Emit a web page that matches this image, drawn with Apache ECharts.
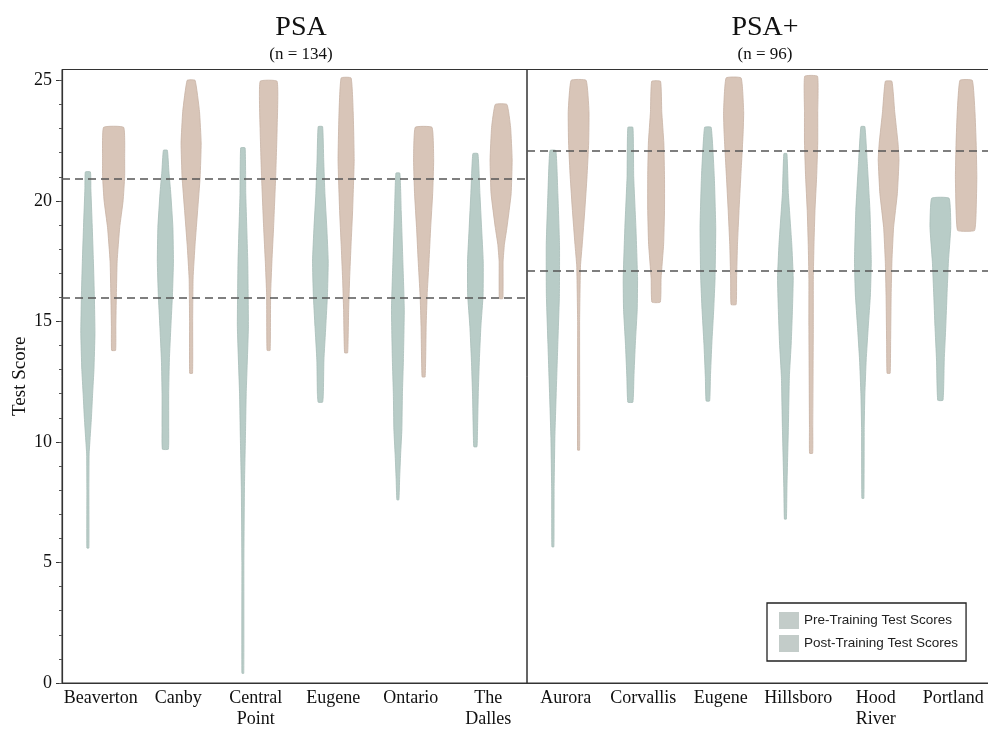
<!DOCTYPE html>
<html>
<head>
<meta charset="utf-8">
<script src="https://cdn.jsdelivr.net/npm/echarts@6/dist/echarts.min.js"></script>
<style>
html,body{margin:0;padding:0;background:#fff;}
#chart{width:988px;height:729px;}
</style>
</head>
<body>
<div id="chart"></div>
<script>
// ---------- DATA ----------
const psaSites = ['Beaverton', 'Canby', 'Central Point', 'Eugene', 'Ontario', 'The Dalles'];
const psaPlusSites = ['Aurora', 'Corvallis', 'Eugene', 'Hillsboro', 'Hood River', 'Portland'];
const yTickValues = [0, 5, 10, 15, 20, 25];
const panelTitles = ['PSA', 'PSA+'];
const panelCounts = ['(n = 134)', '(n = 96)'];
const psaCutoffs = [15.98, 20.92];
const psaPlusCutoffs = [17.09, 22.06];
const seriesNames = ['Pre-Training Test Scores', 'Post-Training Test Scores'];

// violin profiles: [test score, relative density width]
// PSA – pre-training
const psaBeavertonPre   = [[21.2,.23],[20.5,.27],[19,.39],[17.5,.5],[16,.59],[14.5,.64],[13,.55],[12,.43],[11,.32],[10,.18],[9.5,.11],[8,.09],[5.6,.09]];
const psaCanbyPre       = [[22.1,.18],[21.2,.32],[20.3,.49],[18.9,.68],[17.5,.73],[16.1,.64],[14.8,.5],[13.4,.36],[12,.3],[10.6,.3],[9.7,.27]];
const psaCentralPre     = [[22.2,.2],[20.3,.26],[17.5,.44],[14.8,.5],[12,.3],[10.2,.23],[8.1,.14],[5,.09],[0.4,.08]];
const psaEugenePre      = [[23.08,.2],[21.7,.3],[20.3,.41],[18.9,.58],[17.5,.71],[16.1,.64],[14.8,.49],[13.4,.32],[12,.27],[11.65,.2]];
const psaOntarioPre     = [[21.15,.18],[19.6,.3],[17.5,.45],[15.5,.58],[13.4,.5],[12,.41],[10.5,.36],[9.5,.25],[8.5,.16],[7.6,.09]];
const psaDallesPre      = [[21.96,.23],[20.3,.41],[18.9,.56],[17.5,.71],[16.1,.7],[14.8,.5],[13.4,.36],[12,.26],[10.2,.18],[9.8,.14]];
// PSA – post-training
const psaBeavertonPost  = [[23.05,.91],[21.7,1],[21,1],[20,.86],[18.9,.55],[17.5,.32],[16.1,.25],[14.8,.2],[13.8,.18]];
const psaCanbyPost      = [[25,.36],[23.7,.76],[22.4,.91],[21,.82],[19.6,.59],[18.2,.36],[16.8,.18],[15,.14],[12.85,.13]];
const psaCentralPost    = [[24.96,.77],[23,.77],[21,.64],[18.9,.45],[17.5,.3],[16.1,.18],[13.8,.14]];
const psaEugenePost     = [[25.1,.45],[23.7,.64],[21.7,.73],[19.6,.59],[18.2,.45],[16.8,.32],[15.5,.23],[13.7,.14]];
const psaOntarioPost    = [[23.05,.76],[21.7,.91],[20.3,.82],[18.9,.64],[17.5,.49],[16.1,.32],[14.8,.23],[12.7,.14]];
const psaDallesPost     = [[24,.53],[23.05,.86],[21.7,1],[20.3,.91],[18.9,.53],[18.2,.3],[17.5,.18],[15.95,.16]];
// PSA+ – pre-training
const plusAuroraPre     = [[22.09,.27],[20.3,.45],[18.2,.6],[16.1,.59],[14.1,.45],[12,.3],[10.2,.18],[8,.11],[5.65,.09]];
const plusCorvallisPre  = [[23.05,.23],[21,.3],[18.9,.5],[16.8,.65],[15.5,.62],[14.1,.45],[12.7,.32],[11.65,.23]];
const plusEugenePre     = [[23.05,.3],[21,.58],[18.9,.71],[16.8,.65],[15.5,.53],[14.1,.36],[12.7,.23],[11.7,.16]];
const plusHillsboroPre  = [[21.96,.14],[20.3,.27],[18.2,.58],[16.8,.71],[15.5,.64],[14.1,.53],[12.7,.36],[10.6,.27],[8.1,.14],[6.8,.09]];
const plusHoodRiverPre  = [[23.08,.18],[21.7,.38],[19.6,.64],[17.5,.76],[16.1,.68],[14.8,.49],[13.4,.3],[12,.18],[10.6,.12],[7.66,.09]];
const plusPortlandPre   = [[20.11,.79],[18.9,.94],[17.5,.73],[16.1,.6],[14.8,.49],[13.4,.35],[11.73,.24]];
// PSA+ – post-training
const plusAuroraPost    = [[25,.68],[23.7,.94],[22.4,.91],[21,.76],[19.6,.56],[18.2,.33],[17.3,.17],[15,.09],[9.66,.09]];
const plusCorvallisPost = [[24.96,.4],[23.7,.51],[22.4,.7],[21,.76],[19.6,.76],[18.2,.68],[16.8,.45],[15.8,.38]];
const plusEugenePost    = [[25.1,.68],[23.7,.91],[22.8,.86],[21,.65],[19.6,.49],[18.2,.35],[16.8,.27],[15.7,.23]];
const plusHillsboroPost = [[25.17,.58],[23.7,.6],[22.4,.6],[21,.5],[19.6,.35],[18.2,.26],[16.8,.2],[14.8,.2],[10.6,.15],[9.53,.14]];
const plusHoodRiverPost = [[24.96,.3],[23.7,.55],[22.4,.85],[21.7,.94],[20.3,.79],[18.9,.45],[17.5,.3],[16.1,.23],[14.1,.18],[12.85,.14]];
const plusPortlandPost  = [[25,.56],[23.7,.8],[22.4,.91],[21,.97],[19.6,.91],[18.77,.76]];

const psaPre   = [psaBeavertonPre, psaCanbyPre, psaCentralPre, psaEugenePre, psaOntarioPre, psaDallesPre];
const psaPost  = [psaBeavertonPost, psaCanbyPost, psaCentralPost, psaEugenePost, psaOntarioPost, psaDallesPost];
const plusPre  = [plusAuroraPre, plusCorvallisPre, plusEugenePre, plusHillsboroPre, plusHoodRiverPre, plusPortlandPre];
const plusPost = [plusAuroraPost, plusCorvallisPost, plusEugenePost, plusHillsboroPost, plusHoodRiverPost, plusPortlandPost];

// ---------- STYLE ----------
const SERIF = '"Liberation Serif", "Times New Roman", serif';
const SANS = '"Liberation Sans", Arial, sans-serif';
const preFill = '#b8ccc7', preStroke = '#a7bdb8';
const postFill = '#d8c5b8', postStroke = '#c8b2a4';
const MAXW = 0.285;     // max violin width as fraction of category band
const SIDE = 0.166;     // offset of each violin from band centre

function violinRender(profiles, side, fill, stroke) {
  return function (params, api) {
    const i = api.value(0);
    const prof = profiles[params.dataIndex];
    const band = api.size([1, 0])[0];
    const cx = api.coord([i, 0])[0] + side * SIDE * band;
    const left = [], right = [];
    for (const p of prof) {
      const y = api.coord([i, p[0]])[1];
      const hw = p[1] * MAXW * band / 2;
      left.push([cx - hw, y]);
      right.push([cx + hw, y]);
    }
    const pts = left.concat(right.reverse());
    return {
      type: 'polygon',
      shape: { points: pts, smooth: 0.12 },
      style: { fill: fill, stroke: stroke, lineWidth: 0.8 }
    };
  };
}

function makeSeries(name, profiles, side, fill, stroke, xi, yi, cutoffs) {
  const s = {
    type: 'custom',
    name: name,
    xAxisIndex: xi,
    yAxisIndex: yi,
    renderItem: violinRender(profiles, side, fill, stroke),
    encode: { x: 0, y: 1 },
    data: profiles.map((p, k) => [k, p[0][0]]),
    itemStyle: { color: fill },
    silent: true,
    clip: false,
    z: 2
  };
  if (cutoffs) {
    s.markLine = {
      silent: true,
      symbol: ['none', 'none'],
      label: { show: false },
      lineStyle: { type: [8, 5], color: '#555', width: 1.6 },
      data: cutoffs.map(v => ({ yAxis: v })),
      z: 5
    };
  }
  return s;
}

const gridTop = 69.5, gridBottomPx = 683;
const minorTicks = Array.from({ length: 26 }, (_, k) => k);

function xAxisFor(gi, cats) {
  return {
    gridIndex: gi, type: 'category', data: cats,
    axisLine: { show: true, lineStyle: { color: '#333', width: 1.2 } },
    axisTick: { show: false },
    axisLabel: {
      interval: 0, margin: 5, color: '#111', fontFamily: SERIF, fontSize: 18, lineHeight: 21,
      formatter: v => v.replace(' ', '\n')
    },
    splitLine: { show: false }
  };
}

const option = {
  animation: false,
  backgroundColor: '#fff',
  title: [
    { text: panelTitles[0], subtext: panelCounts[0], left: 296, top: 9, textAlign: 'center', itemGap: 4,
      textStyle: { fontFamily: SERIF, fontSize: 28, fontWeight: 'normal', color: '#111' },
      subtextStyle: { fontFamily: SERIF, fontSize: 17, color: '#111' } },
    { text: panelTitles[1], subtext: panelCounts[1], left: 760, top: 9, textAlign: 'center', itemGap: 4,
      textStyle: { fontFamily: SERIF, fontSize: 28, fontWeight: 'normal', color: '#111' },
      subtextStyle: { fontFamily: SERIF, fontSize: 17, color: '#111' } }
  ],
  legend: {
    orient: 'vertical', left: 767, top: 603,
    borderColor: '#222', borderWidth: 1.3, padding: [9, 8, 9, 12],
    itemWidth: 20, itemHeight: 17, itemGap: 6, icon: 'rect',
    textStyle: { fontFamily: SANS, fontSize: 13.5, color: '#222' },
    data: seriesNames.map(n => ({ name: n, itemStyle: { color: '#c3ccc9' } }))
  },
  grid: [
    { left: 62, top: gridTop, width: 465, height: gridBottomPx - gridTop, outerBoundsMode: 'none', containLabel: false,
      show: true, borderColor: '#333', borderWidth: 1, backgroundColor: 'transparent' },
    { left: 527, top: gridTop, width: 465, height: gridBottomPx - gridTop, outerBoundsMode: 'none', containLabel: false,
      show: true, borderColor: '#333', borderWidth: 1, backgroundColor: 'transparent' }
  ],
  xAxis: [xAxisFor(0, psaSites), xAxisFor(1, psaPlusSites)],
  yAxis: [
    { gridIndex: 0, type: 'value', min: 0, max: 25.45, position: 'left',
      axisLine: { show: true, lineStyle: { color: '#333', width: 1.2 } },
      axisTick: { show: true, customValues: yTickValues, length: 6, lineStyle: { color: '#333' } },
      axisLabel: { customValues: yTickValues, margin: 10, color: '#111', fontFamily: SERIF, fontSize: 18 },
      splitLine: { show: false },
      name: 'Test Score', nameLocation: 'middle', nameGap: 32,
      nameTextStyle: { fontFamily: SERIF, fontSize: 19, color: '#111' } },
    { gridIndex: 0, type: 'value', min: 0, max: 25.45, position: 'left',
      axisLine: { show: false },
      axisTick: { show: true, customValues: minorTicks, length: 3, lineStyle: { color: '#555' } },
      axisLabel: { show: false }, splitLine: { show: false } },
    { gridIndex: 1, type: 'value', min: 0, max: 25.45, position: 'left',
      axisLine: { show: false }, axisTick: { show: false }, axisLabel: { show: false }, splitLine: { show: false } }
  ],
  series: [
    makeSeries(seriesNames[0], psaPre, -1, preFill, preStroke, 0, 0, psaCutoffs),
    makeSeries(seriesNames[1], psaPost, 1, postFill, postStroke, 0, 0, null),
    makeSeries(seriesNames[0], plusPre, -1, preFill, preStroke, 1, 2, psaPlusCutoffs),
    makeSeries(seriesNames[1], plusPost, 1, postFill, postStroke, 1, 2, null)
  ]
};

const chart = echarts.init(document.getElementById('chart'), null, { renderer: 'canvas' });
chart.setOption(option);
</script>
</body>
</html>
